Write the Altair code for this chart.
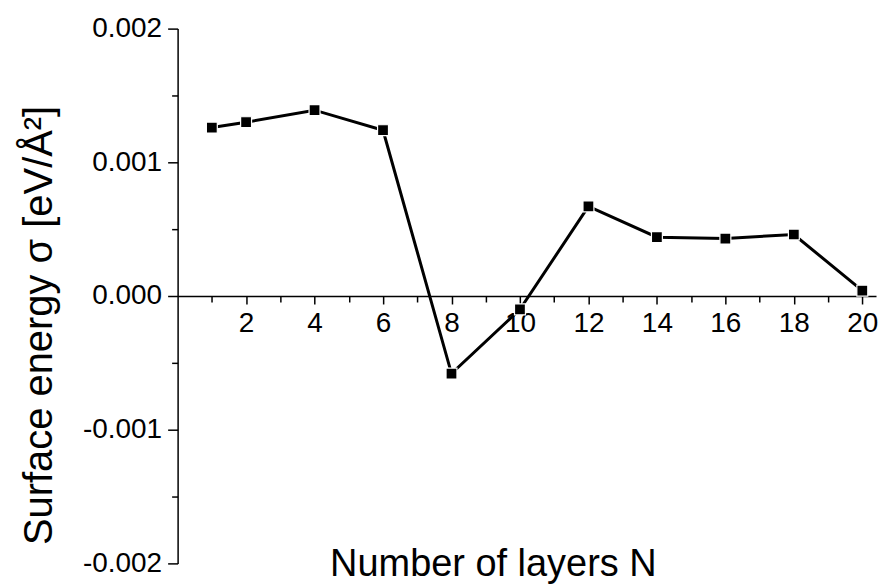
import altair as alt
import pandas as pd

layers = [1, 2, 4, 6, 8, 10, 12, 14, 16, 18, 20]
sigma = [0.00126, 0.00130, 0.00139, 0.00124, -0.00058, -0.00010,
         0.00067, 0.00044, 0.00043, 0.00046, 0.00004]

x_ticks = list(range(1, 21))
y_ticks = [-0.002, -0.0015, -0.001, -0.0005, 0.0, 0.0005, 0.001, 0.0015, 0.002]

df = pd.DataFrame({"N": layers, "sigma": sigma})

W, H = 700, 536
FONT = "Liberation Sans"

x_enc = alt.X(
    "N:Q",
    scale=alt.Scale(domain=[0, 20.4], nice=False, zero=False),
    axis=alt.Axis(
        values=x_ticks,
        offset=-H / 2,
        labelExpr="datum.value % 2 === 0 ? datum.value : ''",
        labelFontSize=28,
        labelPadding=6,
        labelOverlap=False,
        labelBound=False,
        tickSize={"condition": {"test": "datum.value % 2 === 0", "value": 8}, "value": 6},
        tickColor="black",
        tickWidth=1.5,
        domainColor="black",
        domainWidth=1.5,
        grid=False,
        title="Number of layers N",
        titleFontSize=38,
        titleFontWeight="normal",
        titleX=316,
        titleY=280,
        titleBaseline="alphabetic",
        titleAlign="center",
        labelColor="black",
        titleColor="black",
    ),
)

y_enc = alt.Y(
    "sigma:Q",
    scale=alt.Scale(domain=[-0.002, 0.002], nice=False, zero=False),
    axis=alt.Axis(
        values=y_ticks,
        labelExpr="abs(datum.value*1000 - round(datum.value*1000)) < 1e-6 ? replace(format(datum.value, '.3f'), '\u2212', '-') : ''",
        labelFontSize=28,
        labelPadding=6,
        tickSize={"condition": {"test": "abs(datum.value*1000 - round(datum.value*1000)) < 1e-6", "value": 10}, "value": 6},
        tickColor="black",
        tickWidth=1.5,
        domainColor="black",
        domainWidth=1.5,
        grid=False,
        title="Surface energy \u03c3 [eV/\u00c5\u00b2]",
        titleFontSize=40,
        titleFontWeight="normal",
        titleX=-138,
        titleY=297,
        titleAngle=-90,
        titleBaseline="middle",
        titleAlign="center",
        labelColor="black",
        titleColor="black",
    ),
)

base = alt.Chart(df).encode(x=x_enc, y=y_enc)

line = base.mark_line(color="black", strokeWidth=3)
pts = base.mark_point(shape="square", filled=True, size=120, color="black",
                      stroke="white", strokeWidth=1.2, opacity=1, strokeOpacity=1, fillOpacity=1)

chart = (
    alt.layer(line, pts)
    .properties(
        width=W,
        height=H,
        autosize=alt.AutoSizeParams(type="none"),
        padding={"left": 170, "top": 20, "right": 6, "bottom": 23},
        background="white",
    )
    .configure_view(stroke=None)
    .configure_axis(labelFont=FONT, titleFont=FONT)
)

chart.save("out.html", embed_options={"renderer": "svg", "actions": False})
